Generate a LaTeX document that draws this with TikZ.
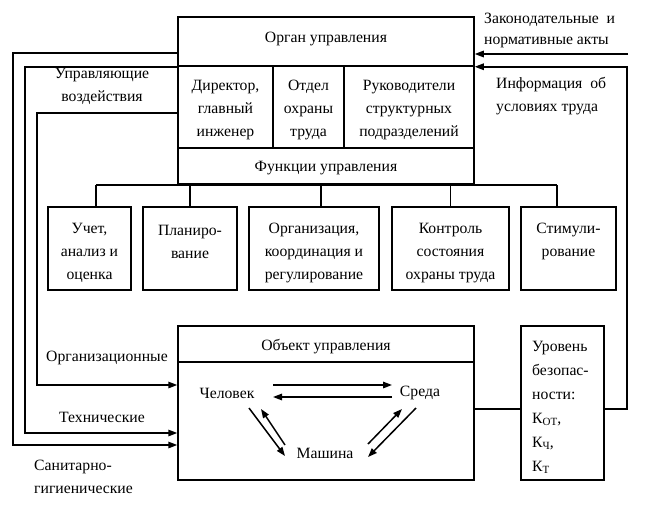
\documentclass[tikz,border=0pt]{standalone}
\usepackage{fontspec}
\setmainfont{Liberation Serif}
\usetikzlibrary{arrows.meta}
\begin{document}
\begin{tikzpicture}[x=1pt,y=-1pt,
 box/.style={draw,line width=1.5pt,inner sep=0pt},
 txt/.style={font=\fontsize{15.7}{23}\selectfont,align=center,inner sep=0pt},
 txtl/.style={font=\fontsize{15.7}{23}\selectfont,align=left,inner sep=0pt},
 arr/.style={line width=1.5pt,-{Triangle[length=9pt,width=6.5pt]}},
 ln/.style={line width=1.5pt}]
\useasboundingbox (0,0) rectangle (650,517);
% management body
\node[box,minimum width=296pt,minimum height=49pt] (organ) at (326,41.5) {};
\node[box,minimum width=95pt,minimum height=82pt] (dir) at (225.5,107) {};
\node[box,minimum width=71pt,minimum height=82pt] (otd) at (308.5,107) {};
\node[box,minimum width=130pt,minimum height=82pt] (ruk) at (409,107) {};
\node[box,minimum width=296pt,minimum height=36pt] (func) at (326,166) {};
\node[txt] (torgan) at (326,39) {Орган управления};
\node[txt] (tdir) at (225.5,110) {Директор,\\главный\\инженер};
\node[txt] (totd) at (308.5,110) {Отдел\\охраны\\труда};
\node[txt] (truk) at (409,110) {Руководители\\структурных\\подразделений};
\node[txt] (tfunc) at (326,168) {Функции управления};
% functions
\node[box,minimum width=83pt,minimum height=83pt] (f1) at (89.5,248.5) {};
\node[box,minimum width=94pt,minimum height=83pt] (f2) at (190,248.5) {};
\node[box,minimum width=130pt,minimum height=83pt] (f3) at (314,248.5) {};
\node[box,minimum width=117pt,minimum height=83pt] (f4) at (450.5,248.5) {};
\node[box,minimum width=95pt,minimum height=83pt] (f5) at (568.5,248.5) {};
\node[txt] (tf1) at (89.5,253) {Учет,\\анализ и\\оценка};
\node[txt] (tf2) at (190,241.5) {Планиро-\\вание};
\node[txt] (tf3) at (314,253) {Организация,\\координация и\\регулирование};
\node[txt] (tf4) at (450.5,253) {Контроль\\состояния\\охраны труда};
\node[txt] (tf5) at (568.5,241.5) {Стимули-\\рование};
\draw[ln] ([xshift=6.5pt]f1.north |- func.south) -- ([xshift=-11.5pt]f5.north |- func.south);
\draw[ln] ([xshift=6.5pt]f1.north) -- ([xshift=6.5pt]f1.north |- func.south);
\draw[ln] (f2.north) -- (f2.north |- func.south);
\draw[ln] ([xshift=7pt]f3.north) -- ([xshift=7pt]f3.north |- func.south);
\draw[ln] (f4.north) -- (f4.north |- func.south);
\draw[ln] ([xshift=-11.5pt]f5.north) -- ([xshift=-11.5pt]f5.north |- func.south);
% object of management
\node[box,minimum width=296pt,minimum height=154pt] (obj) at (326,403) {};
\node[box,minimum width=296pt,minimum height=36pt] (objhead) at (326,344) {};
\node[txt] (tobj) at (326,347) {Объект управления};
\node[txt] (chel) at (227,393) {Человек};
\node[txt] (sreda) at (420,393) {Среда};
\node[txt] (mash) at (325,453) {Машина};
\draw[arr] ([shift={(46,-8)}]chel.center) -- ([shift={(-28,-8)}]sreda.center);
\draw[arr] ([shift={(-28,4)}]sreda.center) -- ([shift={(46,4)}]chel.center);
\draw[arr] ([shift={(22,15)}]chel.center) -- ([shift={(-40,3)}]mash.center);
\draw[arr] ([shift={(-40,-8)}]mash.center) -- ([shift={(34,16)}]chel.center);
\draw[arr] ([shift={(43,-9)}]mash.center) -- ([shift={(-18,16)}]sreda.center);
\draw[arr] ([shift={(-4,15)}]sreda.center) -- ([shift={(43,4)}]mash.center);
% safety level
\node[box,minimum width=83pt,minimum height=154pt] (lvl) at (562.5,403) {};
\node[txtl,anchor=west,font=\fontsize{15.7}{24}\selectfont] (tlvl) at (532,407) {Уровень\\безопас-\\ности:\\К{\fontsize{11}{11}\selectfont\raisebox{-2pt}{ОТ}},\\К{\fontsize{11}{11}\selectfont\raisebox{-2pt}{Ч}},\\К{\fontsize{11}{11}\selectfont\raisebox{-2pt}{Т}}};
\draw[ln] ([yshift=-6pt]obj.east) -- ([yshift=-6pt]lvl.west);
% feedback on the right
\coordinate (c4) at (627,200);
\draw[arr] ([yshift=-6pt]lvl.east) -| (c4) |- (organ.south east);
\coordinate (law) at (628,54);
\draw[arr] (law) -- (law -| organ.east);
\node[txtl,anchor=west,font=\fontsize{15.7}{21}\selectfont] (tlaw) at (484,30.5) {Законодательные \ и\\нормативные акты};
\node[txtl,anchor=west] (tinfo) at (496,96.5) {Информация \ об\\условиях труда};
% control actions on the left
\coordinate (c1) at (13,200);
\coordinate (c2) at (25,200);
\coordinate (c3) at (37,200);
\draw[arr] ([yshift=-11.5pt]organ.west) -| (c1) |- ([yshift=-42pt]obj.west);
\draw[arr] (organ.south west) -| (c2) |- ([yshift=-30pt]obj.west);
\draw[arr] ([yshift=-6pt]dir.west) -| (c3) |- ([yshift=18pt]obj.west);
\node[txt] (tupr) at (102,86) {Управляющие\\воздействия};
\node[txt] (torg) at (107,358) {Организационные};
\node[txt] (ttech) at (102,417) {Технические};
\node[txtl,anchor=west] (tsan) at (34,476.5) {Санитарно-\\гигиенические};
\end{tikzpicture}
\end{document}
